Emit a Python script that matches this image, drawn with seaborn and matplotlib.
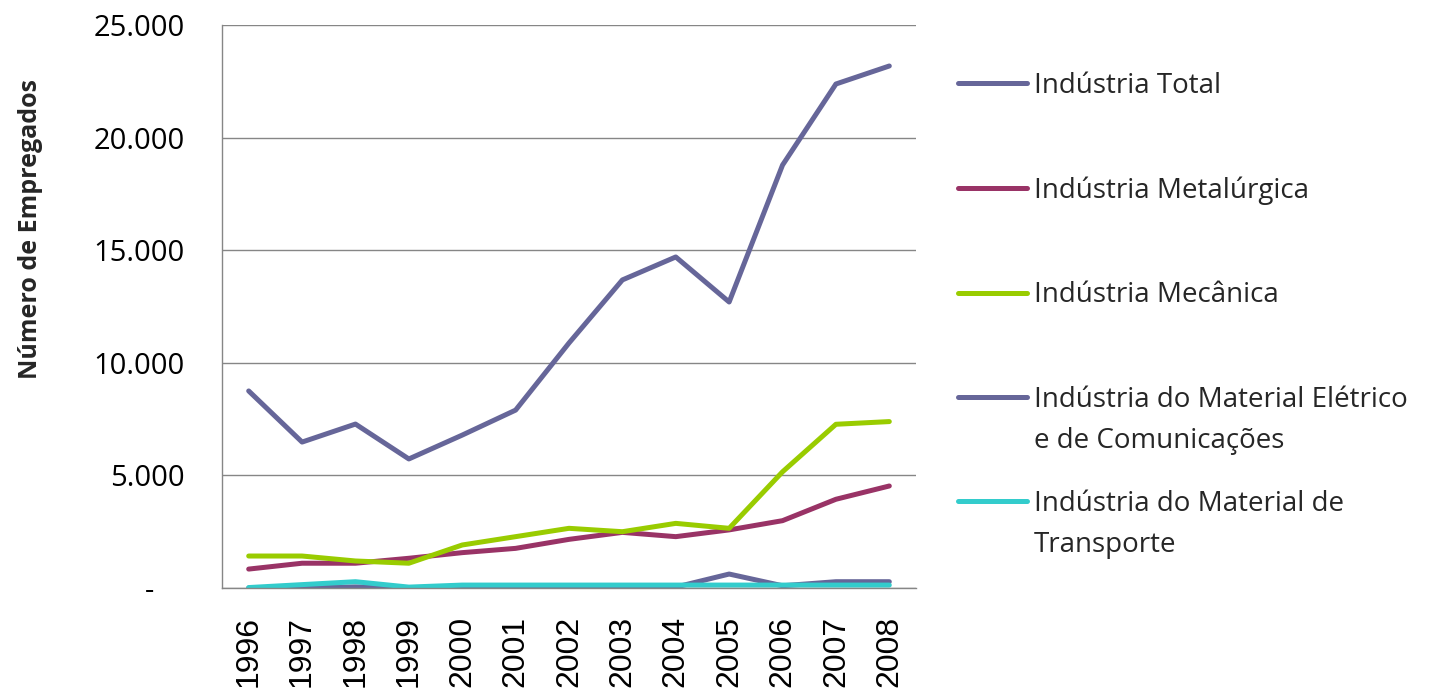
import pandas as pd
import matplotlib
matplotlib.use("Agg")
import matplotlib.pyplot as plt
import seaborn as sns
from matplotlib.ticker import FuncFormatter

# -----------------------------
# Data
# -----------------------------
years = [1996, 1997, 1998, 1999, 2000, 2001, 2002, 2003, 2004, 2005, 2006, 2007, 2008]
total = [8750, 6480, 7280, 5730, 6790, 7900, 10880, 13680, 14700, 12700, 18780, 22380, 23180]
metalurgica = [840, 1100, 1100, 1320, 1570, 1760, 2160, 2470, 2280, 2580, 2990, 3940, 4530]
mecanica = [1420, 1420, 1200, 1100, 1910, 2280, 2650, 2500, 2870, 2650, 5160, 7270, 7390]
eletrico = [0, 0, 50, 0, 40, 40, 40, 40, 40, 620, 100, 280, 280]
transporte = [20, 150, 280, 40, 130, 130, 130, 130, 130, 130, 130, 130, 130]

series_names = [
    "Indústria Total",
    "Indústria Metalúrgica",
    "Indústria Mecânica",
    "Indústria do Material Elétrico\ne de Comunicações",
    "Indústria do Material de\nTransporte",
]
series_values = [total, metalurgica, mecanica, eletrico, transporte]
colors = ["#666699", "#993366", "#99CC00", "#666699", "#33CCCC"]

df = pd.concat(
    [pd.DataFrame({"ano": years, "valor": v, "serie": n}) for n, v in zip(series_names, series_values)],
    ignore_index=True,
)

# -----------------------------
# Plot
# -----------------------------
sns.set_theme(style="white")
plt.rcParams["font.family"] = ["Open Sans", "DejaVu Sans"]

W, H = 1447, 690
fig = plt.figure(figsize=(W / 100, H / 100), dpi=100)
ax = fig.add_axes([222 / W, 1 - 588 / H, 694 / W, 563 / H])

sns.lineplot(
    data=df, x="ano", y="valor", hue="serie", hue_order=series_names,
    palette=dict(zip(series_names, colors)), linewidth=3.6, ax=ax,
)
handles, _ = ax.get_legend_handles_labels()
ax.get_legend().remove()

ax.set_xlim(1995.5, 2008.5)
ax.set_ylim(0, 25000)
ax.set_yticks(range(0, 25001, 5000))
ax.yaxis.set_major_formatter(
    FuncFormatter(lambda v, p: "-    " if v == 0 else f"{int(v):,}".replace(",", "."))
)
ax.set_xticks(years)
ax.set_xticklabels([str(y) for y in years], rotation=90, family=["Liberation Sans", "DejaVu Sans"])
ax.tick_params(axis="both", length=0, colors="black")
ax.tick_params(axis="y", labelsize=21, pad=27)
ax.tick_params(axis="x", labelsize=23, pad=20)

ax.grid(axis="y", color="#868686", linewidth=1)
for s in ["top", "right"]:
    ax.spines[s].set_visible(False)
for s in ["left", "bottom"]:
    ax.spines[s].set_color("#868686")
    ax.spines[s].set_linewidth(1)

ax.set_xlabel("")
ax.set_ylabel("Número de Empregados", fontsize=18, fontweight="bold")
ax.yaxis.set_label_coords(-0.258, 0.638)

# legend: first lines in the legend, second lines as extra text below
first_lines = [n.split("\n")[0] for n in series_names]
fs = 20
leg_kw = dict(frameon=False, fontsize=fs, handlelength=2.5, handletextpad=0.25, loc="upper left")


def make_legend(ls, x0, y0):
    return fig.legend(handles, first_lines, labelspacing=ls,
                      bbox_to_anchor=(x0 / W, 1 - y0 / H), **leg_kw)


ls, x0, y0 = 2.4, 945, 60
leg = make_legend(ls, x0, y0)
fig.canvas.draw()
r = fig.canvas.get_renderer()
ys = [H - t.get_window_extent(r).y0 - t.get_window_extent(r).height / 2 for t in leg.get_texts()]
tx = leg.get_texts()[0].get_window_extent(r).x0
step = (ys[-1] - ys[0]) / 4
ls += (104.5 - step) / (fs * 100 / 72)
x0 += 1034 - tx
y0 += 86 - ys[0]
leg.remove()
leg = make_legend(ls, x0, y0)
fig.canvas.draw()

for i, n in enumerate(series_names):
    parts = n.split("\n")
    if len(parts) > 1:
        bb = leg.get_texts()[i].get_window_extent(r)
        fig.text(bb.x0 / W, (bb.y0 - 41) / H, parts[1], fontsize=fs, ha="left", va="bottom")

plt.savefig("out.png", dpi=100)
plt.close()
